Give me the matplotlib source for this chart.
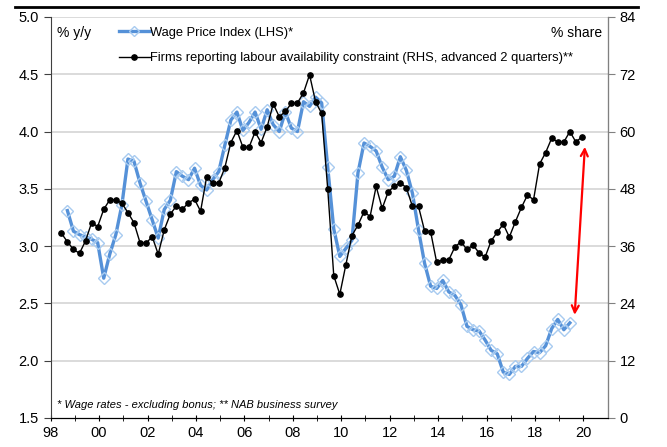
import matplotlib
matplotlib.use("Agg")
import matplotlib.pyplot as plt
import numpy as np
from matplotlib.lines import Line2D

plt.rcParams['font.family'] = ['Liberation Sans', 'DejaVu Sans']

# Wage Price Index, % y/y, quarterly from 1998Q3
wpi_start = 1998.69
wpi = [3.31, 3.13, 3.10, 3.08, 3.06, 3.03, 2.72, 2.93, 3.10, 3.36,
       3.76, 3.74, 3.55, 3.39, 3.23, 3.07, 3.32, 3.40, 3.65, 3.61,
       3.58, 3.68, 3.53, 3.49, 3.58, 3.65, 3.88, 4.10, 4.17, 4.01,
       4.08, 4.17, 4.02, 4.19, 4.06, 4.00, 4.17, 4.03, 4.00, 4.26,
       4.22, 4.30, 4.25, 3.69, 3.15, 2.91, 2.98, 3.05, 3.64, 3.90,
       3.87, 3.83, 3.69, 3.58, 3.61, 3.78, 3.66, 3.46, 3.14, 2.85,
       2.65, 2.63, 2.70, 2.60, 2.57, 2.49, 2.30, 2.27, 2.26, 2.18,
       2.09, 2.06, 1.90, 1.88, 1.95, 1.95, 2.02, 2.08, 2.07, 2.13,
       2.28, 2.36, 2.27, 2.33]

# NAB: firms reporting labour availability constraint, % share (advanced 2 qtrs), from 1998Q2
nab_start = 1998.44
nab = [38.7, 36.9, 35.3, 34.5, 37.1, 40.9, 40.1, 43.7, 45.7, 45.7,
       45.0, 43.0, 40.9, 36.7, 36.6, 38.0, 34.3, 39.4, 42.7, 44.4,
       43.7, 45.1, 45.8, 43.3, 50.5, 49.2, 49.2, 52.4, 57.7, 60.2,
       56.7, 56.7, 59.9, 57.7, 61.0, 65.8, 63.1, 64.2, 65.9, 66.0,
       68.1, 71.9, 66.2, 63.8, 48.0, 29.8, 25.9, 32.1, 38.2, 40.4,
       43.2, 42.2, 48.5, 43.9, 47.4, 48.5, 49.3, 48.2, 44.3, 44.3,
       39.2, 39.0, 32.6, 33.1, 33.1, 35.8, 36.9, 35.3, 36.2, 34.6,
       33.7, 37.1, 38.9, 40.6, 37.9, 41.1, 44.1, 46.7, 45.7, 53.2,
       55.6, 58.6, 57.8, 57.8, 60.0, 57.8, 58.9]

year_ticks = list(range(1998, 2021, 2))
year_labels = ['98', '00', '02', '04', '06', '08', '10', '12', '14', '16', '18', '20']
left_ticks = [1.5, 2.0, 2.5, 3.0, 3.5, 4.0, 4.5, 5.0]
right_ticks = list(range(0, 85, 12))

x_wpi = wpi_start + 0.25 * np.arange(len(wpi))
x_nab = nab_start + 0.25 * np.arange(len(nab))

fig = plt.figure(figsize=(6.67, 4.47), dpi=100)
ax = fig.add_axes([0.076, 0.065, 0.835, 0.897])
ax2 = ax.twinx()

blue = '#5591D8'
ax.plot(x_wpi, wpi, color=blue, lw=2.4, marker='D', ms=6, zorder=3,
        mfc='none', mec='#A8CBF0', mew=1.0)
ax2.plot(x_nab, nab, color='black', lw=1.0, marker='o', ms=3.8, zorder=3)

ax.set_xlim(1998, 2021)
ax.set_ylim(1.5, 5.0)
ax2.set_ylim(0, 84)
ax.set_yticks(left_ticks)
ax.set_yticklabels([f'{v:.1f}' for v in left_ticks])
ax2.set_yticks(right_ticks)
ax.set_xticks(year_ticks)
ax.set_xticklabels(year_labels)
ax.set_xticks(range(1999, 2021, 2), minor=True)

for v in left_ticks[1:]:
    ax.axhline(v, color='#D4D4D4', lw=1.2, zorder=0)

for a in (ax, ax2):
    a.spines['top'].set_visible(False)
ax.spines['left'].set_color('#404040')
ax2.spines['left'].set_visible(False)
ax2.spines['right'].set_color('#808080')
ax.spines['bottom'].set_color('black')

ax.tick_params(axis='x', which='both', direction='inout', length=5, labelsize=10.5, pad=3)
ax.tick_params(axis='y', direction='out', length=5, labelsize=10.5, color='#404040')
ax2.tick_params(axis='y', direction='out', length=5, labelsize=10.5, color='#808080')

# red double-headed arrow
ax2.annotate('', xy=(2020.06, 56.8), xytext=(2019.64, 21.6),
             arrowprops=dict(arrowstyle='<->,head_length=0.5,head_width=0.25',
                             color='red', lw=1.6, shrinkA=0, shrinkB=0))

handles = [
    Line2D([], [], color=blue, lw=2.4, marker='D', ms=5, mfc='none', mec='#A8CBF0',
           markevery=[1]),
    Line2D([], [], color='black', lw=1.0, marker='o', ms=3.8, markevery=[1]),
]
ax.legend(handles, ['Wage Price Index (LHS)*',
                    'Firms reporting labour availability constraint (RHS, advanced 2 quarters)**'],
          loc='upper left', bbox_to_anchor=(0.108, 0.995), frameon=False,
          fontsize=9.3, handlelength=2.4, handletextpad=0.05, labelspacing=1.05,
          borderaxespad=0.2)

ax.text(0.012, 0.96, '% y/y', transform=ax.transAxes, fontsize=10, va='center')
ax.text(0.99, 0.96, '% share', transform=ax.transAxes, fontsize=10, va='center', ha='right')
ax.text(0.012, 0.032, '* Wage rates - excluding bonus; ** NAB business survey',
        transform=ax.transAxes, fontsize=8, style='italic', va='center')

# top border line of the page
fig.add_artist(Line2D([15 / 667, 638 / 667], [1 - 7 / 447, 1 - 7 / 447],
                      color='black', lw=2.0, transform=fig.transFigure))

fig.savefig('out.png', dpi=100)
